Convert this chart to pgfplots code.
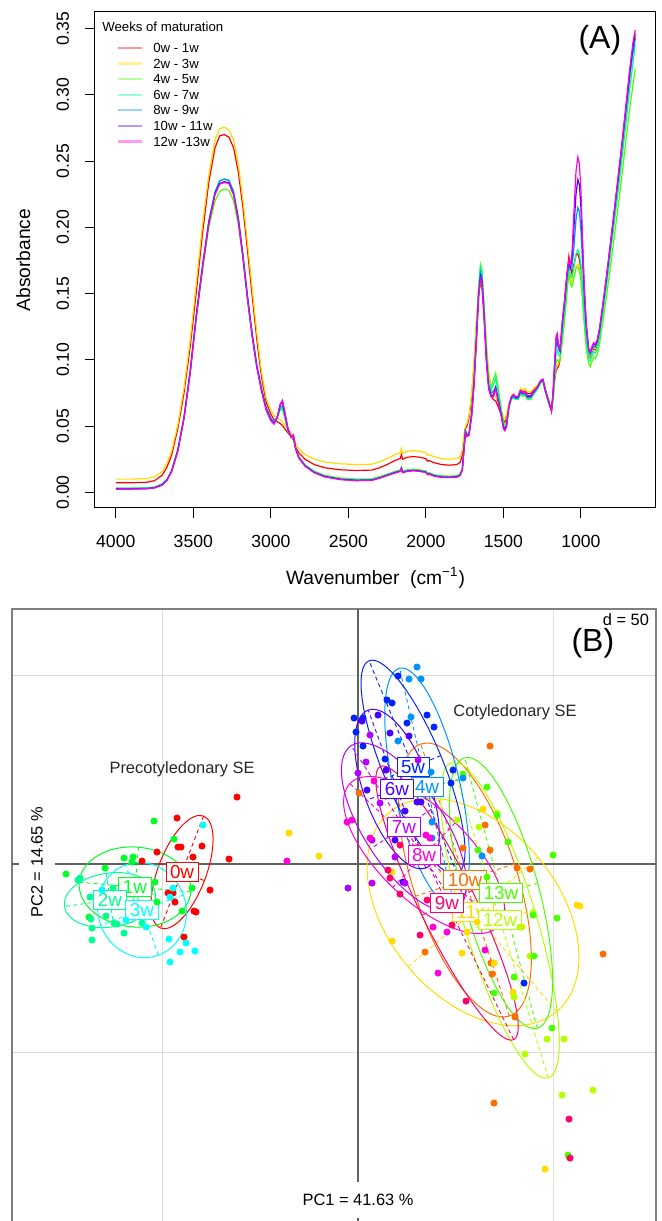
\documentclass[border=0pt]{standalone}
\usepackage{fontspec}
\setmainfont{Liberation Sans}
\usepackage{pgfplots}
\pgfplotsset{compat=1.18}
\usepackage{pgfplotstable}

\definecolor{c0}{HTML}{FF0000}
\definecolor{c10}{HTML}{FF6D00}
\definecolor{c11}{HTML}{FFDB00}
\definecolor{c12}{HTML}{B6FF00}
\definecolor{c13}{HTML}{49FF00}
\definecolor{c1}{HTML}{00FF24}
\definecolor{c2}{HTML}{00FF92}
\definecolor{c3}{HTML}{00FFFF}
\definecolor{c4}{HTML}{0092FF}
\definecolor{c5}{HTML}{0024FF}
\definecolor{c6}{HTML}{4900FF}
\definecolor{c7}{HTML}{B600FF}
\definecolor{c8}{HTML}{FF00DB}
\definecolor{c9}{HTML}{FF006D}

\newcommand{\tickf}{\fontsize{8.8}{10}\selectfont}
\newcommand{\labf}{\fontsize{9.6}{11}\selectfont}
\newcommand{\legf}{\fontsize{6.6}{7.8}\selectfont}
\newcommand{\bigf}{\fontsize{16}{18}\selectfont}
\newcommand{\txtf}{\fontsize{8.2}{9.5}\selectfont}
\newcommand{\grpf}{\fontsize{9.4}{10.5}\selectfont}

% ellipse: color, cx, cy, angle, a(pt), b(pt)
\newcommand{\ellip}[6]{%
  \draw[#1,line width=0.5pt,rotate around={#4:(axis cs:#2,#3)}] (axis cs:#2,#3) ellipse [x radius=#5pt, y radius=#6pt];
  \draw[#1,line width=0.45pt,dash pattern=on 2pt off 1.6pt] ([shift={(#4:#5pt)}]axis cs:#2,#3) -- ([shift={(#4:-#5pt)}]axis cs:#2,#3);
  \draw[#1,line width=0.45pt,dash pattern=on 2pt off 1.6pt] ([shift={({#4+90}:#6pt)}]axis cs:#2,#3) -- ([shift={({#4+90}:-#6pt)}]axis cs:#2,#3);
}
\newcommand{\lab}[4]{\node[draw=#1,text=#1,fill=white,line width=0.5pt,font=\grpf,inner xsep=2pt,inner ysep=1.5pt] at (axis cs:#2,#3) {#4};}
% legend row: color, rel y, text
\newcommand{\legrow}[3]{%
  \draw[#1, line width=1.1pt, opacity=0.4] (rel axis cs:0.041,#2) -- (rel axis cs:0.0838,#2);
  \node[anchor=west, font=\legf, inner sep=0pt] at (rel axis cs:0.1034,#2) {#3};
}

\pgfplotstableread{
wn R Y G C B P M
4000 .0072 .0100 .0032 .0031 .0029 .0026 .0025
3900 .0072 .0100 .0032 .0031 .0029 .0026 .0025
3800 .0076 .0104 .0034 .0033 .0031 .0028 .0027
3750 .0088 .0116 .0040 .0039 .0037 .0034 .0033
3700 .0130 .0158 .0065 .0063 .0060 .0057 .0055
3670 .0190 .0220 .0100 .0098 .0095 .0092 .0090
3640 .0280 .0310 .0165 .0165 .0160 .0158 .0155
3600 .0480 .0510 .0320 .0325 .0320 .0315 .0310
3560 .0750 .0790 .0560 .0570 .0565 .0560 .0555
3520 .1100 .1150 .0900 .0920 .0915 .0910 .0900
3480 .1520 .1590 .1320 .1350 .1345 .1340 .1330
3440 .1960 .2030 .1680 .1720 .1715 .1705 .1700
3400 .2340 .2400 .2000 .2050 .2045 .2035 .2025
3360 .2600 .2660 .2200 .2270 .2265 .2255 .2245
3330 .2690 .2745 .2270 .2350 .2350 .2330 .2325
3300 .2700 .2755 .2290 .2365 .2365 .2345 .2340
3270 .2680 .2735 .2280 .2350 .2355 .2335 .2330
3240 .2600 .2660 .2200 .2260 .2270 .2250 .2245
3210 .2420 .2480 .2020 .2070 .2080 .2060 .2055
3180 .2150 .2210 .1760 .1790 .1800 .1780 .1775
3150 .1820 .1880 .1450 .1470 .1480 .1460 .1455
3120 .1480 .1540 .1180 .1190 .1200 .1180 .1175
3090 .1150 .1200 .0950 .0955 .0960 .0945 .0940
3060 .0870 .0910 .0780 .0780 .0785 .0770 .0765
3030 .0680 .0710 .0640 .0635 .0640 .0625 .0620
3000 .0590 .0620 .0560 .0555 .0560 .0545 .0540
2980 .0550 .0580 .0530 .0525 .0530 .0520 .0515
2960 .0535 .0565 .0560 .0560 .0565 .0560 .0560
2940 .0520 .0550 .0620 .0630 .0640 .0660 .0665
2925 .0505 .0535 .0630 .0640 .0655 .0685 .0695
2910 .0480 .0510 .0560 .0570 .0580 .0600 .0610
2890 .0450 .0480 .0470 .0470 .0475 .0480 .0485
2870 .0420 .0450 .0420 .0420 .0420 .0420 .0420
2855 .0400 .0430 .0420 .0425 .0425 .0430 .0435
2840 .0340 .0370 .0330 .0330 .0330 .0330 .0330
2820 .0300 .0330 .0270 .0265 .0265 .0262 .0260
2780 .0250 .0285 .0210 .0205 .0203 .0200 .0198
2720 .0210 .0250 .0160 .0155 .0152 .0150 .0148
2650 .0185 .0228 .0128 .0122 .0120 .0118 .0116
2550 .0170 .0215 .0108 .0102 .0100 .0098 .0096
2450 .0165 .0210 .0100 .0095 .0092 .0090 .0088
2350 .0168 .0212 .0102 .0097 .0094 .0092 .0090
2300 .0185 .0230 .0118 .0113 .0110 .0108 .0106
2250 .0210 .0255 .0138 .0133 .0130 .0128 .0126
2200 .0240 .0285 .0158 .0153 .0150 .0148 .0146
2165 .0255 .0300 .0170 .0165 .0162 .0160 .0158
2158 .0285 .0330 .0190 .0185 .0182 .0180 .0178
2150 .0250 .0295 .0160 .0155 .0152 .0150 .0148
2120 .0265 .0310 .0170 .0165 .0162 .0160 .0158
2080 .0270 .0315 .0175 .0170 .0167 .0165 .0163
2040 .0265 .0310 .0170 .0165 .0162 .0160 .0158
2000 .0255 .0300 .0162 .0157 .0154 .0152 .0150
1990 .0235 .0280 .0145 .0140 .0137 .0135 .0133
1980 .0240 .0285 .0150 .0145 .0142 .0140 .0138
1950 .0225 .0270 .0135 .0130 .0127 .0125 .0123
1900 .0210 .0255 .0125 .0120 .0117 .0115 .0113
1850 .0205 .0250 .0122 .0118 .0115 .0113 .0111
1800 .0210 .0255 .0126 .0122 .0119 .0117 .0115
1780 .0225 .0270 .0138 .0134 .0131 .0129 .0127
1765 .0280 .0320 .0180 .0176 .0173 .0170 .0168
1755 .0400 .0430 .0330 .0325 .0320 .0315 .0310
1745 .0480 .0500 .0470 .0465 .0460 .0460 .0455
1735 .0500 .0520 .0440 .0435 .0430 .0425 .0420
1722 .0560 .0580 .0450 .0445 .0440 .0435 .0430
1705 .0720 .0750 .0620 .0600 .0590 .0580 .0570
1690 .0950 .0980 .0850 .0830 .0820 .0810 .0800
1675 .1250 .1280 .1200 .1170 .1150 .1130 .1120
1660 .1500 .1520 .1560 .1530 .1500 .1480 .1470
1648 .1580 .1590 .1720 .1700 .1660 .1630 .1610
1638 .1540 .1560 .1680 .1660 .1620 .1590 .1570
1625 .1350 .1400 .1420 .1400 .1370 .1340 .1320
1610 .1050 .1150 .1080 .1060 .1030 .1000 .0980
1595 .0820 .0920 .0850 .0830 .0810 .0790 .0780
1580 .0730 .0800 .0790 .0770 .0750 .0730 .0720
1565 .0700 .0740 .0850 .0810 .0760 .0735 .0720
1550 .0690 .0720 .0900 .0860 .0800 .0790 .0780
1535 .0650 .0680 .0800 .0770 .0720 .0700 .0690
1515 .0590 .0620 .0640 .0620 .0600 .0590 .0580
1500 .0540 .0570 .0530 .0510 .0500 .0490 .0480
1490 .0530 .0560 .0510 .0490 .0480 .0470 .0465
1480 .0560 .0590 .0540 .0520 .0510 .0500 .0495
1465 .0650 .0670 .0640 .0635 .0640 .0645 .0650
1450 .0710 .0720 .0700 .0700 .0705 .0715 .0720
1435 .0730 .0740 .0715 .0720 .0725 .0735 .0740
1420 .0710 .0720 .0700 .0705 .0710 .0715 .0720
1405 .0715 .0725 .0700 .0705 .0710 .0720 .0725
1390 .0775 .0785 .0740 .0750 .0755 .0765 .0770
1375 .0760 .0775 .0725 .0735 .0740 .0750 .0755
1360 .0765 .0785 .0730 .0740 .0745 .0755 .0760
1345 .0745 .0760 .0700 .0710 .0715 .0725 .0730
1325 .0745 .0760 .0700 .0710 .0715 .0725 .0730
1305 .0770 .0785 .0740 .0745 .0750 .0760 .0765
1280 .0800 .0810 .0780 .0785 .0790 .0795 .0800
1260 .0835 .0840 .0825 .0830 .0835 .0840 .0845
1245 .0840 .0845 .0835 .0840 .0845 .0850 .0855
1230 .0760 .0765 .0760 .0765 .0770 .0775 .0780
1215 .0700 .0705 .0700 .0705 .0710 .0715 .0720
1200 .0650 .0655 .0640 .0645 .0650 .0655 .0660
1190 .0625 .0630 .0620 .0620 .0620 .0615 .0610
1180 .0700 .0710 .0700 .0710 .0730 .0750 .0760
1170 .0840 .0860 .0850 .0880 .0920 .0960 .0980
1160 .0920 .0950 .0980 .1050 .1110 .1160 .1180
1153 .0935 .0960 .1000 .1070 .1130 .1180 .1200
1145 .0950 .0970 .0990 .1040 .1080 .1110 .1120
1135 .1000 .1020 .1000 .1030 .1060 .1070 .1080
1120 .1200 .1180 .1130 .1200 .1250 .1280 .1300
1105 .1430 .1380 .1300 .1380 .1420 .1450 .1460
1090 .1650 .1580 .1500 .1580 .1620 .1640 .1650
1078 .1780 .1680 .1650 .1700 .1720 .1740 .1750
1068 .1700 .1620 .1580 .1640 .1680 .1700 .1720
1058 .1650 .1580 .1550 .1620 .1700 .1760 .1800
1045 .1720 .1630 .1620 .1700 .1850 .2000 .2120
1032 .1790 .1700 .1690 .1800 .2060 .2250 .2420
1020 .1800 .1720 .1700 .1830 .2150 .2360 .2530
1010 .1760 .1700 .1670 .1800 .2120 .2320 .2480
1000 .1680 .1640 .1600 .1720 .1980 .2150 .2280
990 .1520 .1500 .1450 .1550 .1750 .1860 .1920
978 .1320 .1320 .1250 .1320 .1450 .1520 .1550
965 .1150 .1160 .1080 .1140 .1220 .1250 .1270
950 .1040 .1050 .0970 .1010 .1060 .1080 .1080
940 .1020 .1030 .0950 .0990 .1040 .1060 .1065
928 .1060 .1070 .0990 .1030 .1080 .1095 .1100
918 .1085 .1095 .1020 .1060 .1100 .1120 .1130
908 .1075 .1085 .1010 .1050 .1095 .1110 .1120
895 .1110 .1120 .1040 .1080 .1130 .1140 .1150
880 .1200 .1210 .1120 .1170 .1220 .1230 .1240
860 .1380 .1390 .1280 .1340 .1390 .1400 .1410
835 .1600 .1610 .1480 .1560 .1610 .1625 .1635
800 .1950 .1960 .1790 .1890 .1950 .1970 .1980
770 .2250 .2260 .2070 .2180 .2250 .2270 .2285
740 .2550 .2560 .2350 .2470 .2550 .2580 .2590
710 .2880 .2890 .2650 .2780 .2870 .2900 .2920
685 .3150 .3160 .2900 .3050 .3140 .3170 .3200
665 .3330 .3350 .3070 .3230 .3320 .3360 .3390
650 .3440 .3470 .3195 .3380 .3420 .3460 .3490
}\spec

\begin{document}
\begin{tikzpicture}
\useasboundingbox (0,0) rectangle (330.5pt,610.5pt);

% ---------------- Panel A ----------------
\begin{axis}[
  at={(47.5pt,356.5pt)}, anchor=south west, scale only axis,
  width=280.5pt, height=248pt,
  x dir=reverse, xmin=516, xmax=4134, ymin=-0.0118, ymax=0.3625,
  xtick={1000,1500,2000,2500,3000,3500,4000},
  ytick={0,0.05,0.1,0.15,0.2,0.25,0.3,0.35},
  xtick pos=bottom, ytick pos=left, tick align=outside,
  major tick length=5pt,
  tick style={black, line width=0.5pt},
  axis line style={black, line width=0.5pt},
  /pgf/number format/assume math mode=true,
  scaled y ticks=false,
  ticklabel style={font=\tickf},
  xticklabel style={/pgf/number format/1000 sep={}, yshift=-5pt},
  yticklabel style={/pgf/number format/.cd, fixed, fixed zerofill, precision=2, /tikz/.cd, xshift=-4.5pt, rotate=90, anchor=south},
  xlabel={Wavenumber\ \ (cm\textsuperscript{−1})},
  ylabel={Absorbance},
  label style={font=\labf},
  xlabel style={at={(axis description cs:0.5,-0.141)}, anchor=center},
  ylabel style={at={(axis description cs:-0.128,0.5)}, anchor=center},
]
\addplot[c0, line width=0.6pt] table[x=wn, y=R] {\spec};
\addplot[c11, line width=0.6pt] table[x=wn, y=Y] {\spec};
\addplot[c13, line width=0.6pt] table[x=wn, y=G] {\spec};
\addplot[c2, line width=0.6pt] table[x=wn, y=C] {\spec};
\addplot[c4, line width=0.6pt] table[x=wn, y=B] {\spec};
\addplot[c6, line width=0.6pt] table[x=wn, y=P] {\spec};
\addplot[c8, line width=0.6pt] table[x=wn, y=M] {\spec};
\node[anchor=west, font=\legf, inner sep=0pt] at (rel axis cs:0.0125,0.97) {Weeks of maturation};
\legrow{c0}{0.9274}{0w - 1w}
\legrow{c11}{0.8960}{2w - 3w}
\legrow{c13}{0.8645}{4w - 5w}
\legrow{c2}{0.8331}{6w - 7w}
\legrow{c4}{0.8016}{8w - 9w}
\legrow{c6}{0.7702}{10w - 11w}
\legrow{c8}{0.7387}{12w -13w}
\node[font=\bigf] at (rel axis cs:0.9,0.9435) {(A)};
\end{axis}

% ---------------- Panel B ----------------
\begin{axis}[
  at={(6pt,-1pt)}, anchor=south west, scale only axis,
  width=322pt, height=307pt,
  xmin=-88.49, xmax=76.21, ymin=-95.2, ymax=67.64,
  xtick={-50,50}, ytick={-50,50}, xticklabels={}, yticklabels={},
  grid=major, major grid style={black!13, line width=0.7pt},
  major tick length=0pt,
  axis line style={black!50, line width=0.9pt},
]
\draw[black!62, line width=0.8pt] (axis cs:0,-100) -- (axis cs:0,70);
\draw[black!62, line width=0.8pt] (axis cs:-100,0) -- (axis cs:80,0);

\pgfplotsset{every axis plot/.append style={only marks, mark=*, mark size=1.55pt}}
% 0w
\addplot[c0] coordinates {(-30.95,17.77) (-46.29,12.20) (-46.04,4.51) (-45.27,4.51) (-39.90,4.77) (-42.20,1.86) (-32.99,1.33) (-55.24,0.80) (-51.41,3.18) (-48.59,-7.69) (-46.80,-10.08) (-37.85,-6.90) (-41.94,-12.47) (-47.31,-7.69) (-44.50,-19.36) (-41.43,-12.73)};
% 10w
\addplot[c10] coordinates {(33.76,31.30) (0.26,18.83) (32.48,10.34) (26.85,4.24) (33.76,3.71) (40.66,-1.06) (43.99,-1.33) (17.14,-23.34) (34.01,-26.26) (62.66,-23.87) (34.27,-29.18) (40.15,-40.58) (34.78,-63.39)};
% 11w
\addplot[c11] coordinates {(31.97,14.59) (8.70,-2.12) (8.70,-20.42) (26.60,-23.61) (27.88,-18.04) (30.43,-15.38) (56.01,-10.88) (41.94,-16.71) (34.78,-26.26) (39.64,-33.95) (56.78,-11.14) (47.83,-80.90) (-17.65,8.22) (-9.97,2.12)};
% 12w
\addplot[c12] coordinates {(25.32,11.67) (35.55,13.53) (30.95,9.81) (44.76,-13.00) (41.43,-16.71) (43.99,-24.40) (39.90,-35.28) (48.34,-46.42) (52.68,-46.42) (42.71,-50.40) (52.17,-61.27) (60.10,-59.95) (53.96,-77.72)};
% 13w
\addplot[c13] coordinates {(26.85,23.87) (32.99,20.42) (35.55,13.00) (38.36,5.84) (49.87,2.39) (50.89,-14.32) (44.76,-13.53) (32.99,-3.45) (30.69,3.71) (45.01,-24.40) (39.90,-29.97) (34.78,-34.22) (49.62,-43.50) (53.71,-77.19)};
% 1w
\addplot[c1] coordinates {(-52.17,11.41) (-47.06,6.63) (-59.85,1.59) (-57.54,1.86) (-64.70,-1.06) (-51.92,-4.77) (-45.01,-12.47) (-51.41,-10.08) (-42.45,-6.37) (-68.80,-14.06) (-57.80,0.53) (-74.68,-2.65)};
% 2w
\addplot[c2] coordinates {(-71.10,-3.71) (-68.29,-14.59) (-64.45,-13.79) (-62.40,-15.65) (-61.64,-15.92) (-59.85,-18.30) (-68.03,-16.98) (-68.03,-20.16) (-55.24,-15.65) (-68.54,-8.75) (-71.61,-4.24) (-62.66,-6.37)};
% 3w
\addplot[c3] coordinates {(-48.34,-19.89) (-43.99,-20.95) (-45.52,-23.34) (-41.69,-23.08) (-48.08,-25.99) (-54.22,-16.71) (-59.33,-14.85) (-48.08,-8.75) (-47.31,-6.37) (-39.64,10.34) (-65.47,-6.90)};
% 4w
\addplot[c4] coordinates {(15.09,52.25) (13.04,49.07) (16.11,49.07) (13.55,38.99) (10.23,32.63) (18.67,24.40) (26.85,22.81) (18.93,6.90) (18.93,11.14) (31.71,2.12)};
% 5w
\addplot[c5] coordinates {(10.23,49.87) (7.42,43.50) (8.70,42.71) (17.65,39.52) (19.44,36.34) (1.28,38.73) (-1.02,38.73) (-0.51,35.01) (1.28,31.30) (12.53,37.40) (6.91,27.85) (24.30,24.93) (23.78,21.49) (42.45,-31.56)};
% 6w
\addplot[c6] coordinates {(1.02,37.93) (8.18,34.75) (13.04,33.95) (5.12,39.52) (15.09,16.45) (16.11,16.45) (12.02,14.06) (9.46,6.37) (11.51,-4.77) (2.30,19.63) (7.16,24.93)};
% 7w
\addplot[c7] coordinates {(0,24.14) (2.05,27.06) (5.63,16.18) (3.58,6.37) (-2.56,-6.37) (3.58,-5.04) (12.02,-5.04) (9.46,1.86) (3.07,34.22) (15.35,27.59)};
% 8w
\addplot[c8] coordinates {(-2.81,11.14) (-1.53,11.67) (4.09,22.02) (3.07,6.90) (17.39,7.69) (18.41,6.90) (19.18,-16.71) (22.76,-18.04) (20.46,-28.91) (32.48,-22.81) (-18.16,0.80)};
% 9w
\addplot[c9] coordinates {(8.18,-3.71) (10.74,-7.96) (17.65,-9.55) (15.86,-18.83) (27.62,-36.34) (53.96,-67.64) (54.22,-77.98) (24.04,-16.18) (10.74,5.04) (7.67,-1.59)};

% ellipses
\ellip{c0}{-45.01}{-2.12}{69}{30}{12}
\ellip{c10}{27.37}{-4.24}{-72}{71.5}{26}
\ellip{c11}{29.41}{-12.73}{-50}{65}{42.5}
\ellip{c12}{36.32}{-14.85}{-73}{82.5}{18}
\ellip{c13}{36.57}{-7.69}{-75}{70}{19}
\ellip{c1}{-57.03}{-6.10}{-5}{28}{20}
\ellip{c2}{-63.43}{-9.55}{8}{23}{13.5}
\ellip{c3}{-55.24}{-12.20}{-70}{24}{22}
\ellip{c4}{17.65}{20.42}{-77}{61}{16.5}
\ellip{c5}{14.07}{25.73}{-67.5}{57.5}{15}
\ellip{c6}{9.97}{19.89}{-70}{42}{16.5}
\ellip{c7}{11.76}{9.81}{-57}{48.5}{20}
\ellip{c8}{16.88}{2.39}{-44}{51.5}{22.5}
\ellip{c9}{22.76}{-10.34}{-64}{76}{14}

% labels
\lab{c0}{-45.01}{-2.12}{0w}
\lab{c1}{-57.03}{-6.10}{1w}
\lab{c2}{-63.43}{-9.55}{2w}
\lab{c3}{-55.24}{-12.20}{3w}
\lab{c11}{29.41}{-12.73}{11w}
\lab{c10}{27.37}{-4.24}{10w}
\lab{c13}{36.57}{-7.69}{13w}
\lab{c12}{36.32}{-14.85}{12w}
\lab{c9}{22.76}{-10.34}{9w}
\lab{c8}{16.88}{2.39}{8w}
\lab{c7}{11.76}{9.81}{7w}
\lab{c5}{14.07}{25.73}{5w}
\lab{c4}{17.65}{20.42}{4w}
\lab{c6}{9.97}{19.89}{6w}

\node[font=\txtf, text=black!85] at (axis cs:-45.0,25.2) {Precotyledonary SE};
\node[font=\txtf, text=black!85] at (axis cs:40.15,40.3) {Cotyledonary SE};
\node[font=\txtf, fill=white, inner sep=6pt] at (axis cs:0,-89.1) {PC1 = 41.63 \%};
\node[font=\txtf, fill=white, inner sep=6pt, rotate=90] at (axis cs:-82.1,0.5) {PC2 = 14.65 \%};
\node[font=\txtf, fill=white, inner sep=0.8pt, anchor=east] at (rel axis cs:0.9922,0.982) {d = 50};
\node[font=\bigf] at (rel axis cs:0.902,0.9446) {(B)};
\end{axis}
\end{tikzpicture}
\end{document}
